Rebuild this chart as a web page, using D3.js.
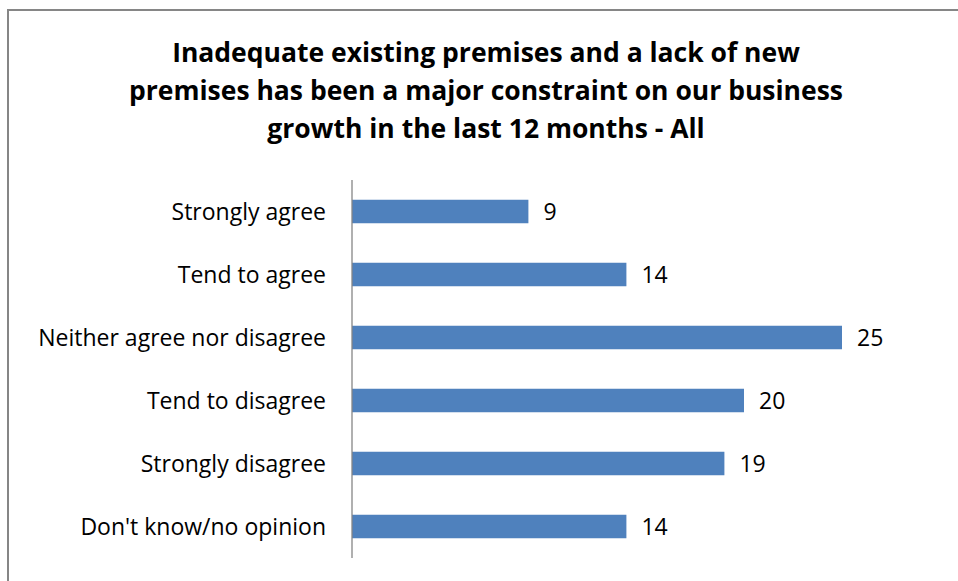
<!DOCTYPE html>
<html>
<head>
<meta charset="utf-8">
<script src="https://cdn.jsdelivr.net/npm/d3@7"></script>
<style>
  html, body { margin: 0; padding: 0; background: #fff; }
  svg { display: block; }
</style>
</head>
<body>
<svg id="chart" width="958" height="581"></svg>
<script>
// Survey responses (%)
const categories = [
  "Strongly agree",
  "Tend to agree",
  "Neither agree nor disagree",
  "Tend to disagree",
  "Strongly disagree",
  "Don't know/no opinion"
];
const values = [9, 14, 25, 20, 19, 14];
const titleLines = [
  "Inadequate existing premises and a lack of new",
  "premises has been a major constraint on our business",
  "growth in the last 12 months - All"
];

const font = "'Open Sans', Lato, sans-serif";
const svg = d3.select("#chart");

// Chart frame
svg.append("rect")
  .attr("x", 8).attr("y", 10)
  .attr("width", 1000).attr("height", 1000)
  .attr("fill", "none")
  .attr("stroke", "#868686")
  .attr("stroke-width", 2);

// Title
svg.append("g")
  .selectAll("text")
  .data(titleLines)
  .join("text")
  .attr("x", 486)
  .attr("y", (d, i) => 62 + i * 38)
  .attr("text-anchor", "middle")
  .attr("font-family", font)
  .attr("font-weight", "bold")
  .attr("font-size", 26.5)
  .attr("fill", "#000")
  .text(d => d);

// Plot area
const plot = { left: 352, right: 940, top: 180, bottom: 558 };

const x = d3.scaleLinear().domain([0, 30]).range([plot.left, plot.right]);
const y = d3.scaleBand()
  .domain(categories)
  .range([plot.top, plot.bottom])
  .paddingInner(0.627)
  .paddingOuter(0.3135);

// Bars
svg.append("g")
  .selectAll("rect")
  .data(categories.map((c, i) => ({ c, v: values[i] })))
  .join("rect")
  .attr("x", x(0))
  .attr("y", d => y(d.c))
  .attr("width", d => x(d.v) - x(0))
  .attr("height", y.bandwidth())
  .attr("fill", "#4f81bd");

// Value labels
svg.append("g")
  .selectAll("text")
  .data(categories.map((c, i) => ({ c, v: values[i] })))
  .join("text")
  .attr("x", d => x(d.v) + 15)
  .attr("y", d => y(d.c) + y.bandwidth() / 2)
  .attr("dy", "0.37em")
  .attr("font-family", font)
  .attr("font-size", 23)
  .attr("fill", "#000")
  .text(d => d.v);

// Category axis
const yAxis = d3.axisLeft(y).tickSize(0).tickPadding(26);
const axisG = svg.append("g")
  .attr("transform", `translate(${plot.left},0)`)
  .call(yAxis);
axisG.select(".domain")
  .attr("stroke", "#868686")
  .attr("stroke-width", 1.3)
  .attr("d", `M0,${plot.top}V${plot.bottom}`);
axisG.selectAll(".tick text")
  .attr("dy", "0.37em")
  .attr("font-family", font)
  .attr("font-size", 23)
  .attr("fill", "#000");
</script>
</body>
</html>
